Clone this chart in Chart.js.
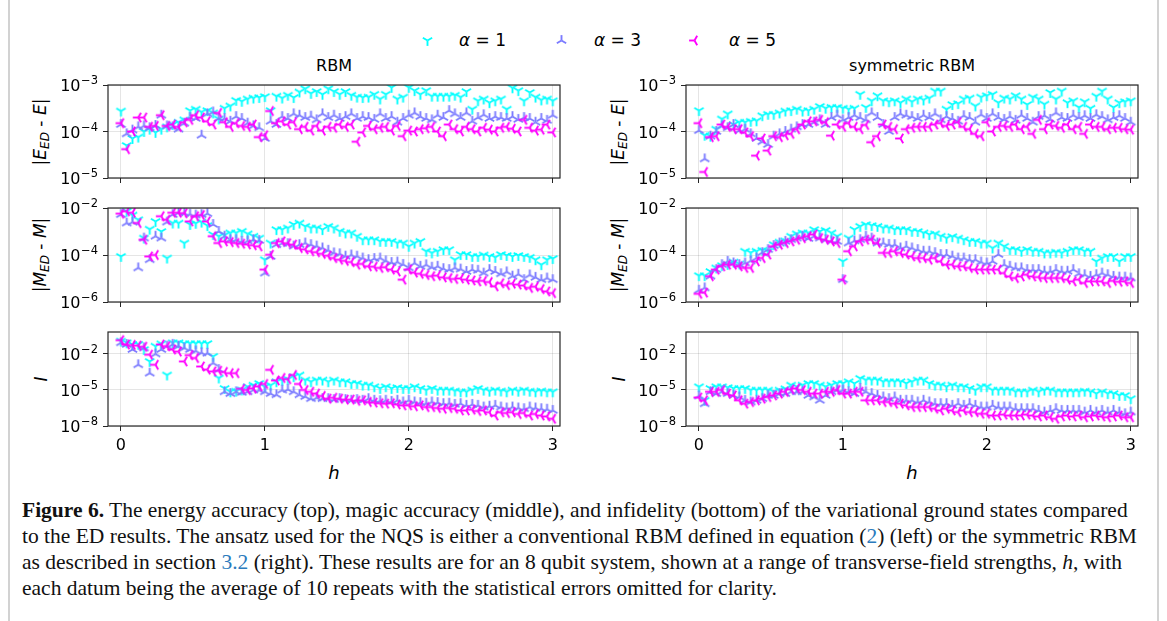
<!DOCTYPE html>
<html>
<head>
<meta charset="utf-8">
<script src="https://cdn.jsdelivr.net/npm/chart.js@4.4.0/dist/chart.umd.min.js"></script>
<style>
  html, body { margin: 0; padding: 0; background: #fff; }
  #page { position: relative; width: 1167px; height: 621px; overflow: hidden; background: #fff; }
  .edge { position: absolute; top: 0; bottom: 0; width: 2px; background: #d2d2d2; }
  .panel { position: absolute; }
  .txt { position: absolute; font-family: 'DejaVu Sans', sans-serif; color: #000; white-space: nowrap; }
  .ylab { font-size: 17px; transform: translate(-50%, -50%) rotate(-90deg); }
  .ylab sub { font-size: 12px; vertical-align: -3px; }
  .title { font-size: 16px; transform: translate(-50%, -50%); }
  .xlab { font-size: 18px; font-style: italic; transform: translate(-50%, -50%); }
  #legend { position: absolute; top: 28px; left: 0; width: 1167px; height: 26px; }
  .legItem { position: absolute; top: 0; font-family: 'DejaVu Sans', sans-serif; font-size: 17px; line-height: 24px; }
  .legItem canvas { position: absolute; top: 6px; }
  .legItem span { position: absolute; white-space: nowrap; }
  #caption { position: absolute; left: 22px; top: 497px; font-family: 'Liberation Serif', serif; font-size: 21.5px; line-height: 26px; color: #111; }
  #caption div { white-space: nowrap; }
  #caption .ref { color: #2b7bbd; }
</style>
</head>
<body>
<div id="page">
  <div class="edge" style="left:8px"></div>
  <div class="edge" style="left:1157px"></div>
  <div id="legend"></div>

  <div class="txt title" style="left:334px; top:65px">RBM</div>
  <div class="txt title" style="left:912px; top:65px">symmetric RBM</div>

  <div class="txt ylab" style="left:41px; top:132px">|<i>E</i><sub><i>ED</i></sub> - <i>E</i>|</div>
  <div class="txt ylab" style="left:41px; top:255px">|<i>M</i><sub><i>ED</i></sub> - <i>M</i>|</div>
  <div class="txt ylab" style="left:41px; top:379px"><i>I</i></div>
  <div class="txt ylab" style="left:619px; top:132px">|<i>E</i><sub><i>ED</i></sub> - <i>E</i>|</div>
  <div class="txt ylab" style="left:619px; top:255px">|<i>M</i><sub><i>ED</i></sub> - <i>M</i>|</div>
  <div class="txt ylab" style="left:619px; top:379px"><i>I</i></div>

  <div class="txt xlab" style="left:334px; top:472px">h</div>
  <div class="txt xlab" style="left:912px; top:472px">h</div>

  <div id="caption">
    <div><b>Figure 6.</b> The energy accuracy (top), magic accuracy (middle), and infidelity (bottom) of the variational ground states compared</div>
    <div>to the ED results. The ansatz used for the NQS is either a conventional RBM defined in equation (<span class="ref">2</span>) (left) or the symmetric RBM</div>
    <div>as described in section <span class="ref">3.2</span> (right). These results are for an 8 qubit system, shown at a range of transverse-field strengths, <i>h</i>, with</div>
    <div>each datum being the average of 10 repeats with the statistical errors omitted for clarity.</div>
  </div>
</div>

<script>
// transverse-field strengths h
const hValues = [
  0, 0.04, 0.08, 0.12, 0.16, 0.2, 0.24, 0.28, 0.32, 0.36,
  0.4, 0.44, 0.48, 0.52, 0.56, 0.6, 0.64, 0.68, 0.72, 0.76,
  0.8, 0.84, 0.88, 0.92, 0.96, 1, 1.04, 1.08, 1.12, 1.16,
  1.2, 1.24, 1.28, 1.32, 1.36, 1.4, 1.44, 1.48, 1.52, 1.56,
  1.6, 1.64, 1.68, 1.72, 1.76, 1.8, 1.84, 1.88, 1.92, 1.96,
  2, 2.04, 2.08, 2.12, 2.16, 2.2, 2.24, 2.28, 2.32, 2.36,
  2.4, 2.44, 2.48, 2.52, 2.56, 2.6, 2.64, 2.68, 2.72, 2.76,
  2.8, 2.84, 2.88, 2.92, 2.96, 3
];

const alphaLabels = ['1', '3', '5'];

// all series below are log10 of the plotted value

// |E_ED - E|, conventional RBM
const energyRbmA1 = [
  -3.56,-4.30,-4.15,-4.12,-4.00,-3.95,-4.02,-3.95,-3.90,-3.85,
  -3.80,-3.75,-3.55,-3.52,-3.58,-3.55,-3.60,-3.73,-3.50,-3.45,
  -3.33,-3.35,-3.30,-3.28,-3.27,-3.25,-3.55,-3.24,-3.28,-3.22,
  -3.27,-3.15,-3.08,-3.18,-3.14,-3.20,-3.08,-3.14,-3.20,-3.14,
  -3.22,-3.26,-3.27,-3.26,-3.20,-3.30,-3.20,-3.05,-3.30,-3.26,
  -3.05,-3.12,-3.20,-3.12,-3.24,-3.24,-3.24,-3.24,-3.22,-3.26,
  -3.14,-3.52,-3.34,-3.30,-3.38,-3.34,-3.30,-3.52,-3.06,-3.12,
  -3.34,-3.16,-3.26,-3.32,-3.30,-3.34
];
const energyRbmA3 = [
  -3.85,-4.05,-3.97,-3.90,-3.88,-3.92,-3.87,-3.65,-3.88,-3.90,
  -3.95,-3.82,-3.70,-3.72,-4.08,-3.62,-3.58,-3.72,-3.72,-3.78,
  -3.68,-3.72,-3.82,-3.88,-3.92,-4.15,-3.78,-3.85,-3.68,-3.72,
  -3.62,-3.65,-3.70,-3.67,-3.75,-3.62,-3.70,-3.65,-3.72,-3.68,
  -3.62,-3.72,-3.68,-3.70,-3.74,-3.62,-3.72,-3.68,-3.80,-3.72,
  -3.65,-3.60,-3.68,-3.72,-3.75,-3.65,-3.70,-3.55,-3.62,-3.70,
  -3.60,-3.78,-3.70,-3.64,-3.72,-3.68,-3.70,-3.72,-3.68,-3.74,
  -3.70,-3.72,-3.80,-3.72,-3.76,-3.65
];
const energyRbmA5 = [
  -3.82,-4.38,-4.00,-3.70,-3.70,-3.90,-3.88,-3.65,-3.88,-3.85,
  -3.90,-3.80,-3.75,-3.65,-3.70,-3.78,-3.85,-3.60,-3.80,-3.90,
  -3.82,-3.88,-3.90,-3.85,-4.12,-4.08,-3.56,-3.82,-3.78,-3.85,
  -3.80,-3.95,-3.90,-3.98,-3.88,-3.98,-3.90,-3.92,-3.85,-3.90,
  -3.85,-4.22,-4.02,-3.88,-3.95,-3.92,-3.90,-3.98,-3.88,-4.10,
  -3.98,-4.00,-3.95,-3.93,-3.90,-4.00,-4.10,-3.85,-3.95,-4.00,
  -3.90,-3.95,-4.00,-3.92,-3.96,-4.00,-3.92,-3.90,-3.94,-4.00,
  -3.75,-3.92,-3.98,-3.96,-3.85,-4.02
];

// |E_ED - E|, symmetric RBM
const energySymA1 = [
  -3.55,-4.08,-4.10,-3.95,-3.73,-3.62,-3.85,-3.80,-3.80,-3.78,
  -3.77,-3.66,-3.63,-3.63,-3.60,-3.56,-3.55,-3.52,-3.56,-3.55,
  -3.52,-3.46,-3.50,-3.48,-3.48,-3.50,-3.52,-3.50,-3.20,-3.48,
  -3.34,-3.23,-3.34,-3.36,-3.34,-3.38,-3.30,-3.36,-3.30,-3.32,
  -3.28,-3.13,-3.13,-3.52,-3.42,-3.40,-3.30,-3.28,-3.45,-3.26,
  -3.23,-3.20,-3.38,-3.28,-3.30,-3.23,-3.30,-3.42,-3.26,-3.30,
  -3.41,-3.16,-3.30,-3.13,-3.38,-3.34,-3.48,-3.36,-3.50,-3.24,
  -3.13,-3.30,-3.48,-3.38,-3.36,-3.34
];
const energySymA3 = [
  -3.98,-4.59,-4.10,-4.00,-3.88,-3.92,-3.85,-3.98,-3.95,-4.05,
  -4.15,-4.22,-4.28,-4.10,-4.05,-4.00,-3.95,-3.90,-3.85,-3.85,
  -3.80,-3.75,-3.85,-3.70,-3.65,-3.75,-3.70,-3.65,-3.70,-3.75,
  -3.60,-3.70,-3.85,-4.00,-3.70,-3.62,-3.65,-3.68,-3.72,-3.65,
  -3.70,-3.62,-3.75,-3.68,-3.72,-3.78,-3.66,-3.70,-3.80,-3.64,
  -3.72,-3.62,-3.70,-3.74,-3.68,-3.76,-3.65,-3.72,-3.80,-3.68,
  -3.66,-3.74,-3.60,-3.70,-3.72,-3.65,-3.70,-3.66,-3.72,-3.64,
  -3.68,-3.75,-3.70,-3.66,-3.72,-3.80
];
const energySymA5 = [
  -3.82,-4.87,-4.12,-4.10,-3.85,-3.90,-3.95,-3.95,-4.02,-4.10,
  -4.52,-4.15,-4.41,-4.10,-4.12,-4.08,-4.05,-3.95,-3.85,-3.78,
  -3.78,-3.75,-3.80,-4.09,-3.85,-3.90,-3.82,-3.90,-3.95,-3.86,
  -4.23,-4.10,-3.85,-3.90,-3.95,-4.15,-3.95,-3.92,-3.90,-3.90,
  -3.90,-3.85,-3.82,-3.88,-3.85,-3.80,-3.90,-3.95,-4.05,-4.10,
  -3.80,-4.00,-3.90,-3.88,-3.90,-3.85,-3.95,-3.90,-4.05,-3.75,
  -3.95,-3.85,-3.88,-3.92,-3.85,-3.95,-3.90,-4.05,-3.85,-3.90,
  -3.90,-3.95,-3.92,-3.92,-3.95,-3.96
];

// |M_ED - M|, conventional RBM
const magicRbmA1 = [
  -4.06,-2.14,-2.30,-2.50,-3.28,-2.90,-2.57,-3.00,-4.13,-2.64,
  -2.64,-3.49,-2.70,-2.65,-2.60,-2.75,-3.13,-3.20,-3.15,-3.06,
  -3.06,-2.99,-3.10,-3.20,-3.28,-4.20,-3.49,-2.92,-2.92,-2.85,
  -2.70,-2.64,-2.78,-2.85,-2.85,-2.92,-2.78,-2.85,-2.99,-3.06,
  -3.06,-3.20,-3.35,-3.35,-3.35,-3.42,-3.42,-3.42,-3.49,-3.49,
  -3.63,-3.49,-3.42,-3.84,-3.91,-3.84,-3.77,-3.77,-4.20,-3.98,
  -3.98,-4.06,-4.06,-4.00,-4.06,-4.10,-3.98,-4.02,-4.06,-4.02,
  -4.06,-4.10,-4.20,-4.41,-4.20,-4.15
];
const magicRbmA3 = [
  -2.28,-2.64,-2.60,-4.55,-3.28,-4.20,-3.20,-3.28,-2.60,-2.28,
  -2.20,-2.22,-2.26,-2.30,-2.28,-2.24,-2.70,-3.00,-3.20,-3.35,
  -3.35,-3.42,-3.40,-3.35,-3.38,-4.77,-4.06,-3.56,-3.50,-3.52,
  -3.62,-3.56,-3.49,-3.56,-3.62,-3.70,-3.80,-3.91,-3.95,-4.05,
  -4.00,-4.05,-4.13,-4.20,-4.15,-4.13,-4.25,-4.32,-4.30,-4.40,
  -4.55,-4.35,-4.48,-4.42,-4.52,-4.48,-4.58,-4.62,-4.55,-4.60,
  -4.70,-4.62,-4.65,-4.77,-4.62,-4.70,-4.80,-4.72,-4.90,-4.82,
  -5.05,-4.85,-4.95,-5.05,-4.98,-5.05
];
const magicRbmA5 = [
  -2.24,-2.14,-2.20,-2.64,-3.35,-4.06,-4.00,-2.35,-2.50,-2.20,
  -2.20,-2.22,-2.57,-2.35,-2.30,-2.57,-3.20,-3.49,-3.42,-3.45,
  -3.49,-3.52,-3.55,-3.58,-3.63,-4.62,-3.99,-3.49,-3.42,-3.50,
  -3.56,-3.70,-3.76,-3.84,-3.88,-3.95,-4.03,-4.13,-4.20,-4.25,
  -4.30,-4.41,-4.38,-4.48,-4.50,-4.55,-4.52,-4.62,-4.70,-5.05,
  -4.62,-4.75,-4.80,-4.85,-4.90,-4.88,-4.95,-4.98,-5.02,-5.00,
  -5.05,-5.08,-5.12,-5.10,-5.15,-5.33,-5.20,-5.28,-5.22,-5.26,
  -5.30,-5.40,-5.35,-5.45,-5.55,-5.62
];

// |M_ED - M|, symmetric RBM
const magicSymA1 = [
  -4.88,-4.88,-4.70,-4.55,-4.45,-4.40,-4.30,-4.38,-3.84,-3.90,
  -3.84,-3.80,-3.84,-3.56,-3.45,-3.40,-3.20,-3.10,-3.06,-3.06,
  -2.92,-3.00,-2.95,-3.06,-3.20,-4.27,-3.28,-2.92,-2.78,-2.71,
  -2.75,-2.78,-2.85,-2.85,-2.92,-2.92,-2.92,-2.99,-3.00,-3.06,
  -3.13,-3.10,-3.20,-3.28,-3.22,-3.28,-3.35,-3.42,-3.42,-3.49,
  -3.49,-3.70,-3.49,-3.63,-3.77,-3.77,-3.84,-3.77,-3.84,-3.84,
  -3.91,-3.91,-3.88,-3.91,-3.84,-3.77,-3.77,-3.84,-3.84,-4.27,
  -4.13,-4.06,-4.06,-4.27,-4.06,-4.06
];
const magicSymA3 = [
  -5.50,-5.40,-4.90,-4.62,-4.41,-4.27,-4.34,-4.41,-4.34,-4.25,
  -4.13,-3.90,-3.77,-3.60,-3.49,-3.42,-3.35,-3.28,-3.20,-3.30,
  -3.20,-3.28,-3.35,-3.40,-3.42,-5.05,-3.49,-3.40,-3.35,-3.20,
  -3.28,-3.49,-3.49,-3.55,-3.56,-3.70,-3.63,-3.70,-3.77,-3.84,
  -3.84,-3.90,-3.98,-3.98,-4.05,-4.13,-4.13,-4.20,-4.20,-4.30,
  -4.34,-4.27,-3.98,-4.41,-4.48,-4.55,-4.55,-4.62,-4.62,-4.62,
  -4.69,-4.69,-4.62,-4.69,-4.69,-4.62,-4.80,-4.84,-4.91,-4.84,
  -4.77,-4.84,-4.91,-4.94,-4.94,-4.98
];
const magicSymA5 = [
  -5.65,-5.60,-4.90,-4.62,-4.48,-4.41,-4.41,-4.48,-4.55,-4.55,
  -4.27,-4.13,-3.98,-3.63,-3.56,-3.49,-3.42,-3.35,-3.28,-3.20,
  -3.13,-3.28,-3.35,-3.42,-3.49,-5.05,-3.84,-3.63,-3.42,-3.35,
  -3.35,-3.49,-3.91,-3.91,-3.84,-3.91,-3.98,-4.06,-4.13,-4.13,
  -4.20,-4.13,-4.27,-4.41,-4.41,-4.48,-4.48,-4.55,-4.62,-4.62,
  -4.62,-4.62,-4.62,-4.77,-4.91,-4.98,-4.91,-4.84,-4.91,-4.94,
  -4.98,-4.98,-4.98,-4.98,-5.05,-5.12,-5.05,-5.19,-5.12,-5.12,
  -5.12,-5.19,-5.10,-5.14,-5.12,-5.19
];

// infidelity I, conventional RBM
const infidRbmA1 = [
  -0.93,-1.07,-1.21,-1.20,-1.63,-2.62,-1.35,-1.15,-3.75,-1.07,
  -1.07,-1.13,-1.13,-1.13,-1.13,-1.13,-2.20,-4.00,-4.87,-5.15,
  -5.10,-5.00,-4.73,-4.60,-4.45,-4.73,-4.60,-4.31,-4.20,-4.10,
  -3.89,-3.75,-4.17,-4.31,-4.17,-4.17,-4.31,-4.17,-4.31,-4.31,
  -4.45,-4.45,-4.59,-4.59,-4.73,-4.87,-4.73,-4.87,-4.80,-4.87,
  -4.87,-4.73,-4.87,-5.01,-4.87,-5.01,-5.01,-5.01,-5.08,-5.15,
  -5.15,-5.01,-4.87,-5.01,-5.10,-5.01,-5.08,-5.15,-5.01,-5.10,
  -5.01,-5.10,-5.15,-5.08,-5.15,-5.15
];
const infidRbmA3 = [
  -1.07,-1.21,-1.63,-2.90,-1.50,-3.60,-2.00,-1.63,-1.35,-1.20,
  -1.35,-1.50,-1.63,-1.75,-1.90,-1.94,-2.76,-3.30,-5.15,-5.30,
  -5.15,-5.20,-5.15,-5.00,-5.01,-5.15,-5.30,-5.40,-5.01,-4.95,
  -5.15,-5.40,-5.55,-5.72,-5.65,-5.72,-5.72,-5.80,-5.72,-5.80,
  -5.86,-5.80,-5.86,-5.72,-5.86,-5.90,-5.86,-5.95,-5.86,-6.00,
  -5.86,-6.00,-6.05,-6.10,-6.00,-6.05,-6.14,-6.10,-6.20,-6.14,
  -6.28,-6.20,-6.28,-6.42,-6.35,-6.28,-6.42,-6.50,-6.42,-6.50,
  -6.56,-6.42,-6.50,-6.56,-6.60,-6.70
];
const infidRbmA5 = [
  -0.85,-1.21,-1.25,-1.30,-1.40,-2.06,-2.90,-1.21,-1.35,-1.63,
  -1.80,-2.62,-2.10,-2.34,-3.04,-3.30,-3.45,-3.40,-3.50,-3.60,
  -3.60,-4.90,-5.00,-4.87,-4.70,-4.50,-3.32,-4.20,-4.00,-4.10,
  -3.75,-4.50,-5.00,-5.15,-5.30,-5.50,-5.72,-5.65,-5.72,-5.80,
  -5.80,-5.90,-5.86,-6.00,-6.05,-6.10,-6.14,-6.10,-6.20,-6.28,
  -6.28,-6.35,-6.28,-6.42,-6.42,-6.50,-6.56,-6.50,-6.56,-6.70,
  -6.70,-6.64,-6.75,-6.70,-6.85,-7.13,-6.85,-6.92,-6.85,-7.00,
  -6.92,-7.13,-7.00,-7.13,-7.20,-7.40
];

// infidelity I, symmetric RBM
const infidSymA1 = [
  -4.73,-5.86,-4.87,-4.73,-4.73,-4.80,-4.87,-4.87,-4.87,-5.01,
  -5.01,-5.01,-5.01,-5.15,-5.01,-4.90,-4.59,-4.73,-4.59,-4.45,
  -4.45,-4.59,-4.73,-4.59,-4.45,-4.45,-4.31,-4.45,-4.03,-4.17,
  -4.17,-4.17,-4.31,-4.31,-4.31,-4.31,-4.45,-4.31,-4.17,-4.17,
  -4.45,-4.59,-4.59,-4.73,-4.59,-4.73,-4.73,-4.87,-5.01,-4.73,
  -4.73,-5.01,-5.01,-5.01,-5.01,-5.15,-5.15,-5.15,-5.01,-5.15,
  -5.01,-5.01,-5.15,-5.15,-5.15,-5.15,-5.15,-5.10,-5.15,-5.30,
  -5.15,-5.30,-5.30,-5.45,-5.45,-5.72
];
const infidSymA3 = [
  -5.50,-6.15,-5.15,-5.30,-5.15,-5.30,-5.45,-5.58,-5.86,-6.00,
  -5.86,-5.72,-5.45,-5.45,-5.30,-5.30,-5.15,-5.15,-5.15,-5.45,
  -5.58,-5.86,-5.45,-5.15,-5.00,-5.00,-5.15,-5.30,-4.87,-5.15,
  -5.30,-5.45,-5.58,-5.72,-5.58,-5.86,-5.86,-5.86,-6.00,-5.86,
  -6.00,-6.14,-6.14,-6.14,-6.28,-6.14,-6.28,-6.14,-6.28,-6.42,
  -6.42,-6.28,-6.42,-6.42,-6.42,-6.56,-6.56,-6.56,-6.56,-6.70,
  -6.84,-6.70,-6.56,-6.70,-6.70,-6.70,-6.70,-6.84,-6.70,-6.84,
  -6.70,-6.84,-6.70,-6.84,-6.98,-6.84
];
const infidSymA5 = [
  -5.63,-5.86,-5.15,-5.15,-5.00,-5.30,-5.45,-5.86,-6.14,-6.00,
  -5.86,-5.72,-5.58,-5.45,-5.30,-5.15,-4.95,-4.87,-5.00,-5.15,
  -5.30,-5.30,-5.15,-5.15,-5.00,-5.30,-5.30,-5.15,-5.15,-5.86,
  -5.86,-5.86,-6.00,-6.00,-6.14,-6.14,-6.28,-6.42,-6.42,-6.42,
  -6.42,-6.56,-6.70,-6.56,-6.70,-6.84,-6.70,-6.84,-6.84,-6.98,
  -6.98,-7.13,-7.13,-7.05,-7.13,-7.13,-7.13,-7.05,-7.13,-7.20,
  -7.13,-7.27,-7.40,-7.20,-7.13,-7.20,-7.13,-7.27,-7.20,-7.13,
  -7.20,-7.27,-7.20,-7.13,-7.27,-7.27
];

// axis tick exponents and limits (log10)
const energyTicks = [-5, -4, -3];
const magicTicks = [-6, -4, -2];
const infidTicks = [-8, -5, -2];
const hTicks = [0, 1, 2, 3];

const seriesColors = ['#00ffff', '#7b7bff', '#ff00ff'];
// matplotlib tri_down, tri_up, tri_left spokes (screen angles, degrees)
const markerSpokes = [[90, 210, 330], [270, 150, 30], [180, 300, 60]];

function makeMarker(color, spokes) {
    const c = document.createElement('canvas');
    c.width = 13;
    c.height = 13;
    const g = c.getContext('2d');
    g.strokeStyle = color;
    g.lineWidth = 1.9;
    spokes.forEach(function(a) {
        const r = a * Math.PI / 180;
        g.beginPath();
        g.moveTo(6.5, 6.5);
        g.lineTo(6.5 + 5.4 * Math.cos(r), 6.5 + 5.4 * Math.sin(r));
        g.stroke();
    });
    return c;
}

const markers = seriesColors.map((col, k) => makeMarker(col, markerSpokes[k]));

// legend
const legend = document.getElementById('legend');
const legendPos = [[421, 459], [555, 594], [688, 729]];
alphaLabels.forEach(function(a, k) {
    const item = document.createElement('div');
    item.className = 'legItem';
    item.style.left = '0px';
    const m = makeMarker(seriesColors[k], markerSpokes[k]);
    m.style.left = legendPos[k][0] + 'px';
    item.appendChild(m);
    const s = document.createElement('span');
    s.style.left = legendPos[k][1] + 'px';
    s.innerHTML = '<i>α</i> = ' + a;
    item.appendChild(s);
    legend.appendChild(item);
});

// frame round the plot area plus 10^n tick labels with a raised exponent
const framePlugin = {
    id: 'frame',
    afterDraw(chart) {
        const a = chart.chartArea;
        const ctx = chart.ctx;
        ctx.save();
        ctx.strokeStyle = '#262626';
        ctx.lineWidth = 1.2;
        ctx.strokeRect(a.left, a.top, a.right - a.left, a.bottom - a.top);

        const ys = chart.scales.y;
        const right = a.left - 10;
        ctx.fillStyle = '#000';
        ctx.textBaseline = 'alphabetic';
        ctx.textAlign = 'left';
        ys.ticks.forEach(function(t) {
            const y = ys.getPixelForValue(t.value);
            const exp = '\u2212' + Math.abs(Math.round(Math.log10(t.value)));
            ctx.font = '11.5px "DejaVu Sans"';
            const ew = ctx.measureText(exp).width;
            ctx.fillText(exp, right - ew, y - 1);
            ctx.font = '16px "DejaVu Sans"';
            const bw = ctx.measureText('10').width;
            ctx.fillText('10', right - ew - bw - 0.5, y + 6);
        });
        ctx.restore();
    }
};

const colLeft = [108, 686];
const rowTop = [85, 208, 332];
const rowHeight = [93, 94, 94];
const boxWidth = 452;

const panels = [
    { row: 0, col: 0, series: [energyRbmA1, energyRbmA3, energyRbmA5], ticks: energyTicks, lo: -5, hi: -3 },
    { row: 0, col: 1, series: [energySymA1, energySymA3, energySymA5], ticks: energyTicks, lo: -5, hi: -3 },
    { row: 1, col: 0, series: [magicRbmA1, magicRbmA3, magicRbmA5], ticks: magicTicks, lo: -6, hi: -2 },
    { row: 1, col: 1, series: [magicSymA1, magicSymA3, magicSymA5], ticks: magicTicks, lo: -6, hi: -2 },
    { row: 2, col: 0, series: [infidRbmA1, infidRbmA3, infidRbmA5], ticks: infidTicks, lo: -8, hi: -0.17 },
    { row: 2, col: 1, series: [infidSymA1, infidSymA3, infidSymA5], ticks: infidTicks, lo: -8, hi: -0.17 }
];

const page = document.getElementById('page');
const yAxisW = 70, padTop = 12, padRight = 12;

panels.forEach(function(p) {
    const isBottom = p.row === 2;
    const xAxisH = isBottom ? 36 : 8;
    const canvas = document.createElement('canvas');
    canvas.className = 'panel';
    canvas.width = yAxisW + boxWidth + padRight;
    canvas.height = padTop + rowHeight[p.row] + xAxisH;
    canvas.style.left = (colLeft[p.col] - yAxisW) + 'px';
    canvas.style.top = (rowTop[p.row] - padTop) + 'px';
    page.appendChild(canvas);

    new Chart(canvas, {
        type: 'scatter',
        data: {
            datasets: p.series.map((vals, k) => ({
                label: 'α = ' + alphaLabels[k],
                data: hValues.map((h, i) => ({ x: h, y: Math.pow(10, vals[i]) })),
                pointStyle: markers[k],
                pointRadius: 5,
                order: 3 - k,
                clip: 0
            }))
        },
        options: {
            responsive: false,
            animation: false,
            events: [],
            layout: { padding: { top: padTop, right: padRight, left: 0, bottom: 0 } },
            plugins: { legend: { display: false }, tooltip: { enabled: false } },
            scales: {
                x: {
                    type: 'linear',
                    min: -0.09,
                    max: 3.05,
                    afterBuildTicks: s => { s.ticks = hTicks.map(v => ({ value: v })); },
                    afterFit: s => { s.height = xAxisH; },
                    border: { display: false },
                    grid: { color: 'rgba(0,0,0,0.1)', tickColor: '#262626', tickLength: 5 },
                    ticks: {
                        display: isBottom,
                        color: '#000',
                        padding: 5,
                        maxRotation: 0,
                        font: { family: 'DejaVu Sans', size: 16 },
                        callback: v => String(v)
                    }
                },
                y: {
                    type: 'logarithmic',
                    min: Math.pow(10, p.lo),
                    max: Math.pow(10, p.hi),
                    afterBuildTicks: s => { s.ticks = p.ticks.map(e => ({ value: Math.pow(10, e) })); },
                    afterFit: s => { s.width = yAxisW; },
                    border: { display: false },
                    grid: { color: 'rgba(0,0,0,0.1)', tickColor: '#262626', tickLength: 5 },
                    ticks: { display: false }
                }
            }
        },
        plugins: [framePlugin]
    });
});
</script>
</body>
</html>
